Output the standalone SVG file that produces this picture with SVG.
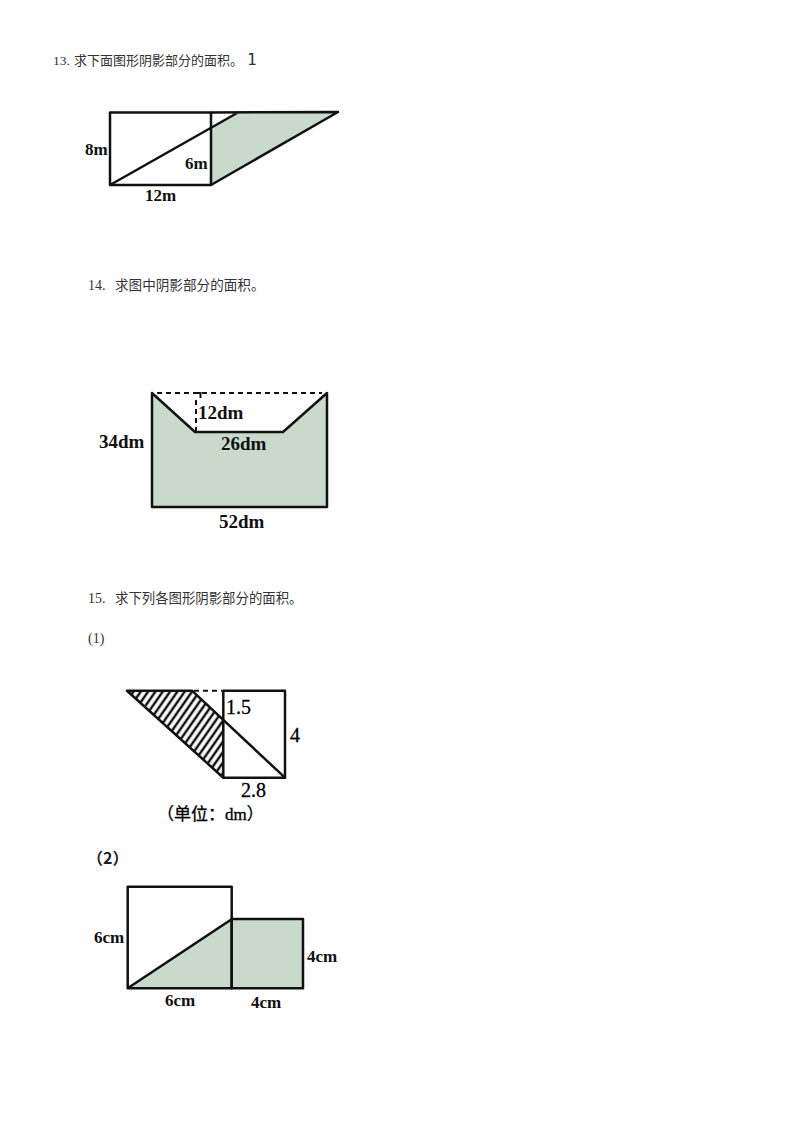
<svg xmlns="http://www.w3.org/2000/svg" width="800" height="1132" viewBox="0 0 800 1132">
<style>
.t{font-family:"Liberation Serif","Noto Sans CJK SC",serif;fill:#333;}
.cjk{font-family:"Noto Sans CJK SC",sans-serif;fill:#333;}
.lb{font-family:"Liberation Serif","Noto Sans CJK SC",serif;font-weight:bold;fill:#111;}
.nm{font-family:"Liberation Serif","Noto Sans CJK SC",serif;fill:#000;stroke:#000;stroke-width:0.3;}
.ln{stroke:#111;stroke-width:2.5;fill:none;stroke-linejoin:round;}
.sh{fill:#c9dacd;stroke:none;}
.ds{stroke:#111;stroke-width:2;stroke-dasharray:5,4;fill:none;}
</style>
<defs>
<pattern id="hatch" patternUnits="userSpaceOnUse" width="6" height="6" patternTransform="rotate(35)">
<rect width="6" height="6" fill="#fff"/>
<line x1="2" y1="0" x2="2" y2="6" stroke="#111" stroke-width="2.5"/>
</pattern>
</defs>
<rect width="800" height="1132" fill="#fff"/>

<g id="title13">
<text class="t" x="53" y="65" font-size="13.5">13.</text>
<text class="cjk" x="74" y="65" font-size="13">求下面图形阴影部分的面积。</text>
<text x="247" y="65" font-size="16" font-family="DejaVu Sans Mono,monospace" fill="#333">1</text>
</g>

<g id="fig13">
<polygon class="sh" points="211,127.4 238,112 338,112 211,185"/>
<rect class="ln" x="110" y="112.5" width="101" height="72.5"/>
<path class="ln" d="M211,112.5 L338,112 L211,185 M110,185 L238,112.5"/>
<text class="lb" x="85" y="155" font-size="17">8m</text>
<text class="lb" x="185" y="169" font-size="17">6m</text>
<text class="lb" x="145" y="201" font-size="17">12m</text>
</g>

<g id="title14">
<text class="t" x="88" y="290" font-size="14">14.</text>
<text class="cjk" x="115" y="290" font-size="13.6">求图中阴影部分的面积。</text>
</g>

<g id="fig14">
<polygon class="sh" points="152,393 195,432 283,432 327,393 327,507 152,507"/>
<path class="ln" d="M152,393 L195,432 L283,432 L327,393 L327,507 L152,507 Z"/>
<line class="ds" x1="157" y1="393" x2="322" y2="393"/>
<line class="ds" x1="196" y1="400" x2="196" y2="431" stroke-dasharray="4,3"/>
<path d="M193,393 H200.5 V398" stroke="#111" stroke-width="2" fill="none"/>
<text class="lb" x="198" y="419" font-size="19" font-weight="normal">12dm</text>
<text class="lb" x="221" y="450" font-size="19">26dm</text>
<text class="lb" x="99" y="448" font-size="19">34dm</text>
<text class="lb" x="219" y="528" font-size="19">52dm</text>
</g>

<g id="title15">
<text class="t" x="88" y="603" font-size="14">15.</text>
<text class="cjk" x="115" y="603" font-size="13.4">求下列各图形阴影部分的面积。</text>
<text class="t" x="88" y="643" font-size="14">(1)</text>
</g>

<g id="fig15-1">
<polygon fill="url(#hatch)" points="127,691 192,691 223.3,720 223.3,778"/>
<rect class="ln" x="223.3" y="690.7" width="61.7" height="87"/>
<path class="ln" d="M223.3,777.7 L127,690.7 L192,690.7 L285,777.7"/>
<line class="ds" x1="194" y1="690.7" x2="222" y2="690.7" stroke-dasharray="4,3"/>
<text class="nm" x="226" y="714" font-size="20">1.5</text>
<text class="nm" x="290" y="742" font-size="20">4</text>
<text class="nm" x="241" y="797" font-size="20">2.8</text>
<text class="nm" x="157" y="820" font-size="17">（单位：dm）</text>
</g>

<g id="fig15-2">
<text x="87" y="864" font-size="16" font-weight="bold" font-family="Noto Sans CJK SC,sans-serif" fill="#222">（2）</text>
<polygon class="sh" points="128,988 232,919 232,988"/>
<rect class="sh" x="232" y="919" width="71" height="69"/>
<rect class="ln" x="127.7" y="886.7" width="104" height="101.6"/>
<rect class="ln" x="231.7" y="919" width="71.3" height="69.3"/>
<line class="ln" x1="128" y1="988" x2="232" y2="919"/>
<text class="lb" x="94" y="943" font-size="17">6cm</text>
<text class="lb" x="307" y="962" font-size="17">4cm</text>
<text class="lb" x="165" y="1006" font-size="17">6cm</text>
<text class="lb" x="251" y="1008" font-size="17">4cm</text>
</g>
</svg>
